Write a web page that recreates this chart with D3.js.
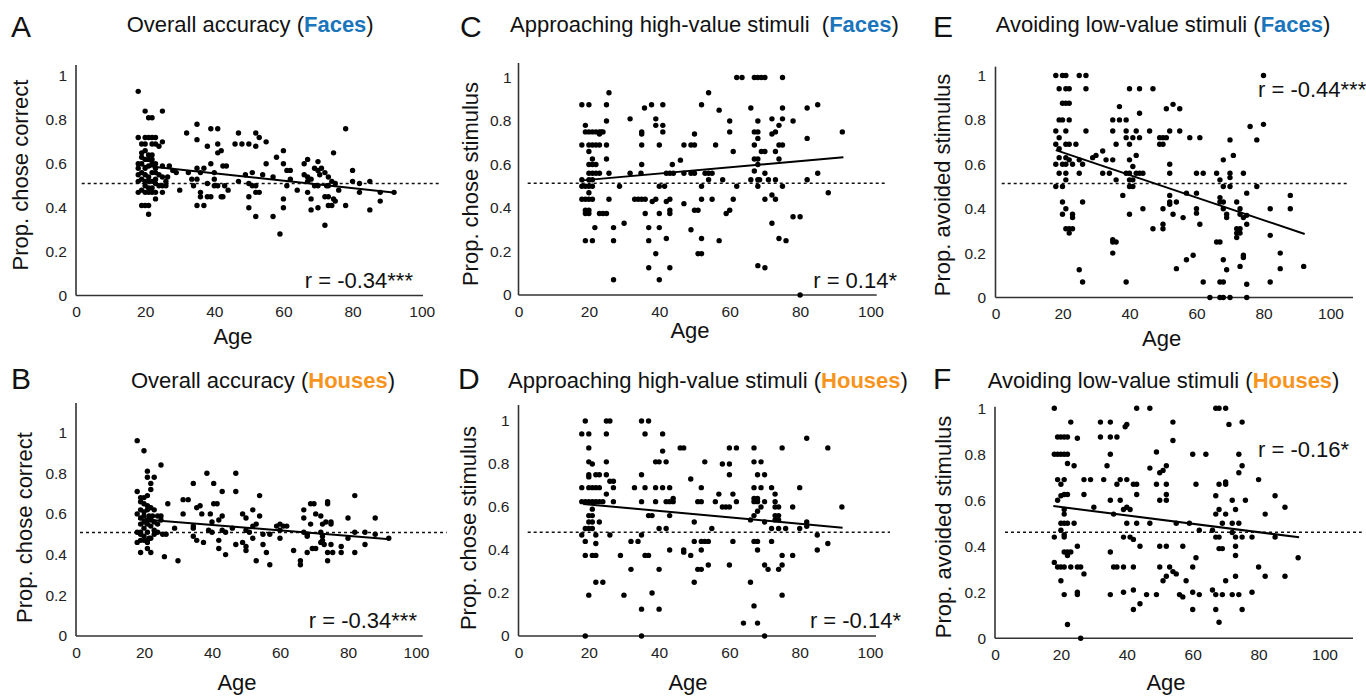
<!DOCTYPE html>
<html lang="en">
<head>
<meta charset="UTF-8">
<title>Age effects on accuracy, approach and avoidance</title>
<script src="https://d3js.org/d3.v7.min.js"></script>
<style>
  body { margin: 0; background: #fff; }
  svg { display: block; font-family: "Liberation Sans", Arial, sans-serif; }
  .tick text { font-size: 15.5px; fill: #222; }
  .title { font-size: 22px; fill: #111; white-space: pre; }
  .letter { font-size: 30px; fill: #111; }
  .axis-label { font-size: 22px; fill: #111; }
  .r-label { font-size: 22px; fill: #111; }
</style>
</head>
<body>
<svg id="chart" width="1366" height="696"></svg>
<script>
// ---- data ----
const xTicks = [0, 20, 40, 60, 80, 100];
const yTicks = [0, 0.2, 0.4, 0.6, 0.8, 1];

// A: overall accuracy, faces  [age, proportion]
const facesAccuracy = [
  [18,0.93],[20,0.84],[21,0.81],[22,0.81],[25,0.84],[18,0.72],[20,0.72],[21,0.72],[22,0.72],[23,0.72],
  [19,0.69],[20,0.69],[22,0.69],[23,0.69],[25,0.70],[24,0.68],[19,0.65],[20,0.66],[21,0.64],[19,0.63],
  [21,0.62],[22,0.62],[18,0.60],[25,0.59],[27,0.59],[23,0.56],[25,0.54],[26.5,0.54],[26,0.52],[18,0.52],
  [20,0.52],[22,0.52],[23,0.53],[25,0.50],[26,0.50],[18,0.47],[20,0.47],[21,0.47],[22,0.47],[23,0.47],
  [25,0.47],[23,0.44],[19,0.41],[20,0.41],[21,0.41],[21,0.37],[19,0.60],[20,0.58],[21,0.59],[22,0.60],
  [23,0.58],[19,0.56],[20,0.55],[21,0.54],[22,0.56],[24,0.55],[19,0.53],[21,0.52],[23,0.51],[20,0.50],
  [22,0.49],[24,0.50],[19,0.48],[21,0.49],[20,0.62],[22,0.64],[23,0.60],[18,0.55],[18,0.58],
  [28,0.57],[29,0.56],[30,0.48],[32,0.74],[32.5,0.56],[33.5,0.53],[34,0.50],[35,0.78],[35,0.71],[35,0.58],
  [35,0.53],[36,0.47],[36,0.45],[35,0.41],[37,0.41],[36,0.56],[37,0.58],[38,0.68],[39,0.76],[41,0.76],
  [39,0.60],[38,0.45],[39,0.45],[40,0.53],[38,0.51],[41,0.69],[41,0.65],[42,0.66],[40,0.56],[40,0.50],
  [41,0.50],[42,0.45],[42.5,0.45],[42.5,0.59],[43.5,0.59],[43,0.50],[44,0.48],[46,0.69],[47,0.74],[48,0.69],
  [50,0.69],[47,0.52],[49,0.55],[51,0.56],[50,0.45],[50,0.40],[50,0.51],[52,0.74],[53,0.72],[52,0.68],
  [51,0.50],[52,0.50],[52,0.47],[53,0.47],[52,0.36],[54,0.55],[55,0.70],[55,0.60],[57,0.54],[57,0.36],
  [58,0.63],[59,0.28],[60,0.66],[60,0.60],[60,0.44],[60,0.40],[61,0.57],[61,0.50],[62,0.57],[62,0.53],
  [64,0.48],[66,0.60],[67,0.62],[66,0.55],[67,0.54],[67,0.52],[68,0.53],[67,0.47],[68,0.44],[68,0.39],
  [69,0.58],[70,0.57],[70,0.61],[69,0.50],[70,0.50],[70.5,0.55],[71,0.58],[70,0.40],[72,0.32],[72,0.56],
  [73,0.54],[72.5,0.50],[73,0.50],[72,0.45],[73,0.45],[73,0.41],[74,0.41],[74.5,0.65],[74,0.52],[75,0.51],
  [74.5,0.44],[75,0.43],[76,0.48],[78,0.76],[78,0.41],[80,0.57],[80,0.52],[82,0.51],[82,0.47],[85,0.52],
  [85,0.39],[88,0.47],[88,0.43],[92,0.47]
];

// B: overall accuracy, houses
const housesAccuracy = [
  [18,0.96],[20,0.91],[21,0.81],[21,0.78],[23,0.78],[22,0.75],[25,0.84],[18,0.71],[19,0.68],[20,0.68],
  [21,0.69],[22,0.72],[19,0.66],[20,0.65],[21,0.64],[22,0.63],[19,0.62],[21,0.62],[23,0.62],[18,0.60],
  [19,0.58],[20,0.59],[21.5,0.59],[22.5,0.59],[24,0.59],[20,0.56],[21,0.55],[23,0.56],[25,0.57],[18,0.51],
  [19,0.51],[21,0.51],[20,0.49],[21.5,0.48],[23,0.50],[19,0.47],[21,0.47],[18,0.46],[21,0.43],[19,0.41],
  [22,0.41],[24,0.51],[25.5,0.50],[26.5,0.50],[26,0.39],[27,0.65],[25,0.59],[19,0.55],[20,0.53],[21,0.57],
  [22,0.54],[23,0.52],[20,0.47],[21,0.46],[22,0.48],[19,0.50],[24,0.55],[22,0.57],[20,0.61],
  [29,0.53],[30,0.37],[31.5,0.60],[31.5,0.67],[33,0.67],[34.5,0.75],[34.5,0.53],[34.5,0.54],[35.5,0.63],[36.5,0.64],
  [37,0.60],[34.5,0.49],[35.5,0.47],[37.5,0.46],[38.5,0.80],[39.5,0.60],[40,0.56],[39,0.52],[40,0.51],[40.5,0.75],
  [40.5,0.65],[41.5,0.65],[42,0.57],[43,0.59],[42,0.47],[42,0.43],[43,0.71],[44,0.40],[43,0.52],[44,0.51],
  [46,0.53],[47,0.80],[47,0.71],[47,0.45],[49,0.60],[50,0.58],[49,0.46],[50,0.44],[50,0.42],[50,0.52],
  [51,0.51],[52,0.54],[52,0.62],[52,0.48],[53,0.55],[53,0.37],[54,0.69],[54,0.59],[55,0.50],[55,0.45],
  [56,0.41],[57,0.35],[57,0.50],[59,0.54],[60,0.55],[61,0.54],[62,0.54],[60,0.52],[60,0.48],[64,0.42],
  [66,0.37],[66,0.35],[67,0.62],[67,0.58],[67,0.51],[68,0.50],[68,0.49],[68,0.41],[69,0.65],[70,0.65],
  [69,0.55],[69.5,0.43],[70.5,0.43],[70.5,0.60],[72,0.59],[72,0.51],[72.5,0.49],[72,0.46],[73,0.45],[72.5,0.47],
  [72.5,0.55],[73.5,0.56],[74,0.66],[74,0.65],[75,0.56],[75,0.55],[74,0.41],[75.5,0.41],[74,0.37],[75,0.45],
  [78,0.44],[78,0.41],[80,0.58],[80,0.48],[82,0.69],[82,0.41],[82,0.51],[85,0.51],[85,0.45],[88,0.58],
  [88,0.50],[92,0.48]
];

// C: approaching high-value stimuli, faces
const facesApproach = [
  [18,0.875],[20,0.875],[25,0.875],[25.7,0.93],[19,0.78],[19,0.75],[20,0.75],[21,0.75],[22,0.75],[23,0.75],
  [23.5,0.75],[24,0.75],[23,0.74],[18,0.69],[20,0.69],[21,0.69],[22,0.69],[23,0.69],[25,0.69],[25,0.80],
  [20,0.66],[21,0.625],[25,0.625],[20,0.60],[21,0.60],[22,0.60],[20,0.56],[21,0.56],[22,0.56],[23,0.56],
  [25.7,0.56],[18,0.53],[20,0.53],[21,0.53],[18,0.50],[19,0.50],[20,0.50],[21,0.50],[20,0.47],[18,0.44],
  [19,0.44],[20,0.44],[21,0.44],[25.7,0.44],[19,0.39],[20,0.39],[19,0.375],[20,0.375],[23,0.375],[24,0.375],
  [25,0.375],[21.7,0.31],[27,0.31],[30,0.33],[19,0.25],[21,0.25],[27,0.25],[27,0.07],[28.7,0.50],[31.7,0.81],
  [31.7,0.56],[34.8,0.56],[33,0.44],[34,0.44],[35,0.44],[36,0.44],[35,0.75],[35,0.74],[35,0.69],[35,0.60],
  [35.8,0.86],[37.8,0.875],[36,0.375],[37,0.31],[37,0.25],[37,0.125],[39,0.81],[39,0.78],[41,0.875],[41,0.78],
  [41,0.75],[40,0.69],[39,0.19],[40,0.07],[39,0.44],[38,0.43],[40,0.50],[41.5,0.50],[40,0.375],[40,0.31],
  [42,0.43],[43,0.44],[43,0.39],[43,0.375],[42,0.26],[43,0.125],[42,0.56],[43,0.56],[43.7,0.60],[44,0.56],
  [46,0.62],[47,0.42],[47,0.69],[49,0.69],[50,0.69],[47,0.56],[50,0.74],[49,0.56],[50,0.56],[49,0.30],
  [50,0.39],[51,0.39],[51,0.19],[52,0.19],[52,0.875],[52,0.50],[52,0.44],[52,0.26],[53,0.56],[54,0.56],
  [54,0.53],[54,0.93],[55,0.56],[55,0.44],[56,0.69],[57,0.85],[57,0.25],[58,0.53],[59,0.375],[60,0.39],
  [60,0.80],[60,0.75],[61,0.66],[61,0.44],[62,0.50],[62,1],[63.5,1],[66,0.86],[66,0.53],[67,1],
  [68,1],[69,1],[70,1],[67,0.75],[68,0.75],[68,0.80],[67,0.69],[68,0.72],[67,0.625],[68,0.625],
  [67,0.57],[68,0.53],[68.5,0.53],[68,0.50],[68,0.60],[69,0.66],[70,0.66],[70,0.56],[68,0.135],[70,0.125],
  [70,0.44],[71,0.53],[72,0.81],[72,0.74],[73,0.75],[72,0.46],[72,0.33],[73,0.66],[73,0.53],[73,0.44],
  [74,0.78],[74,0.69],[75,0.69],[74,0.625],[74,0.26],[75,0.81],[75,1],[75,0.86],[75,0.50],[76,0.25],
  [78,0.80],[78,0.36],[80,0.36],[80,0],[82,0.86],[82,0.72],[82,0.53],[85,0.875],[85,0.56],[88,0.47],
  [92,0.75]
];

// D: approaching high-value stimuli, houses
const housesApproach = [
  [19,1],[25,1],[26,1],[35,1],[37,1],[18,0.94],[20,0.94],[25,0.94],[36,0.94],[41,0.94],
  [20,0.875],[20,0.81],[21,0.80],[25,0.81],[20,0.75],[20,0.74],[22,0.75],[23,0.75],[25,0.75],[18,0.69],
  [20,0.69],[21,0.69],[22,0.69],[23,0.69],[25,0.66],[26,0.72],[27,0.72],[27,0.69],[18,0.625],[19,0.625],
  [20,0.625],[21,0.625],[22,0.625],[23,0.625],[24,0.625],[27,0.625],[21,0.59],[20,0.56],[21,0.56],[20,0.53],
  [21,0.53],[23,0.53],[19,0.50],[20,0.50],[21,0.50],[22,0.47],[18,0.47],[19,0.44],[22,0.43],[19,0.375],
  [21,0.375],[22,0.375],[22,0.25],[24,0.25],[20,0.19],[19,0],[26,0.47],[29,0.375],[30,0.19],[32,0.31],
  [32,0.44],[34,0.44],[33,0.69],[35,0.75],[35,0.625],[35,0.47],[35,0.125],[35,0],[36,0.69],[36,0.375],
  [37,0.375],[37,0.56],[38,0.56],[38,0.20],[39,0.69],[39,0.625],[39,0.81],[40,0.81],[42,0.81],[40,0.50],
  [42,0.50],[40,0.31],[40,0.125],[41,0.69],[43,0.69],[41,0.86],[42,0.625],[43,0.625],[44,0.625],[43,0.56],
  [43,0.40],[44,0.64],[46,0.875],[47,0.875],[47,0.40],[47,0.39],[49,0.73],[49,0.375],[50,0.53],[50,0.44],
  [50,0.25],[51,0.31],[52,0.31],[52,0.69],[51,0.625],[52,0.625],[52,0.40],[52,0.44],[53,0.81],[53,0.44],
  [54,0.44],[54,0.33],[55,0.50],[56,0.625],[57,0.66],[58,0.60],[59,0.60],[58,0.80],[60,0.80],[60,0.75],
  [60,0.875],[62,0.875],[60,0.60],[60,0.33],[61,0.66],[61,0.44],[62,0.625],[64,0.06],[66,0.25],[66,0.54],
  [67,0.875],[67,0.81],[69,0.81],[67,0.69],[67,0.64],[68,0.64],[67,0.625],[68,0.625],[67,0.56],[67,0.44],
  [68,0.44],[67,0.14],[68,0.75],[68,0.40],[68,0.06],[69,0.69],[69,0.60],[68,0.58],[70,0.75],[70,0.625],
  [70,0.53],[70,0.33],[71,0.31],[70,0],[72,0.69],[73,0.66],[72,0.50],[72,0.44],[73,0.625],[73,0.60],
  [74,0.60],[73,0.56],[74,0.56],[73,0.54],[74,0.54],[74,0.50],[74,0.31],[75,0.33],[75,0.875],[75,0.375],
  [75,0.19],[76,0.50],[78,0.60],[78,0.375],[80,0.69],[80,0.50],[82,0.92],[82,0.53],[82,0.51],[85,0.47],
  [85,0.40],[88,0.875],[88,0.43],[92,0.60]
];

// E: avoiding low-value stimuli, faces
const facesAvoid = [
  [18,1],[20,1],[21,1],[25,1],[27,1],[19,0.94],[21,0.94],[22,0.94],[27,0.94],[20,0.875],
  [21,0.875],[22,0.875],[19,0.80],[20,0.80],[22,0.80],[18,0.75],[19,0.72],[21,0.75],[27,0.75],[18,0.69],
  [19,0.67],[21,0.69],[22,0.69],[24,0.69],[19,0.63],[21,0.63],[18,0.60],[20,0.60],[21,0.60],[23,0.60],
  [22,0.62],[25,0.62],[26,0.60],[19,0.56],[21,0.56],[25,0.56],[21,0.53],[18,0.50],[20,0.50],[20,0.43],
  [21,0.40],[20,0.375],[23,0.375],[23,0.36],[21,0.31],[22,0.31],[23,0.31],[22,0.29],[25,0.125],[26,0.07],
  [26,0.43],[29,0.63],[30,0.64],[32,0.66],[33,0.62],[35,0.62],[32,0.56],[34,0.56],[35,0.80],[37,0.80],
  [39,0.80],[35,0.75],[37,0.86],[36,0.69],[36,0.53],[38,0.46],[35,0.26],[36,0.25],[35,0.25],[35,0.20],
  [39,0.07],[39,0.75],[39,0.72],[40,0.94],[43,0.94],[47,0.94],[40,0.69],[40,0.62],[41,0.72],[43,0.72],
  [42,0.75],[43,0.83],[41,0.59],[42,0.64],[39,0.56],[40,0.56],[40,0.53],[41,0.53],[40,0.50],[41,0.50],
  [42,0.56],[43,0.56],[44,0.56],[40,0.375],[44,0.40],[46,0.75],[47,0.31],[49,0.72],[50,0.72],[49,0.69],
  [50,0.69],[51,0.72],[52,0.75],[51,0.85],[53,0.87],[55,0.85],[55,0.75],[52,0.60],[52,0.56],[50,0.40],
  [50,0.33],[50,0.31],[52,0.46],[52,0.43],[52,0.42],[54,0.43],[53,0.375],[54,0.13],[56,0.36],[57,0.47],
  [58,0.72],[61,0.72],[60,0.56],[62,0.56],[60,0.47],[60,0.40],[60,0.38],[61,0.33],[57,0.17],[59,0.19],
  [62,0.07],[64,0],[66,0.56],[67,0.53],[68,0.50],[67,0.45],[68,0.62],[67,0.43],[68,0.43],[68,0.40],
  [69,0.375],[69,0.36],[66,0.25],[67,0.25],[68,0.17],[69,0.125],[67,0.07],[68,0.07],[67,0],[68,0],
  [70,0],[70,0.71],[71,0.64],[70,0.56],[70,0.54],[70,0.50],[72,0.43],[73,0.40],[73,0.375],[72,0.31],
  [73,0.31],[72,0.29],[73,0.29],[72,0.27],[73,0.14],[74,0.56],[74,0.36],[75,0.37],[75,0.33],[74,0.19],
  [74,0.18],[75,0.47],[75,0.06],[75,0],[76,0.77],[78,0.71],[78,0.50],[80,1],[80,0.78],[82,0.40],
  [82,0.28],[82,0.07],[85,0.20],[85,0.13],[88,0.46],[88,0.40],[92,0.14]
];

// F: avoiding low-value stimuli, houses
const housesAvoid = [
  [18,1],[43,1],[47,1],[67,1],[68,1],[70,1],[23,0.94],[32,0.94],[35,0.94],[39.5,0.92],
  [40,0.93],[54,0.94],[71,0.93],[75,0.94],[19,0.875],[20,0.875],[21,0.875],[22,0.875],[25,0.87],[32,0.875],
  [35,0.875],[37,0.875],[54,0.86],[18,0.80],[19,0.80],[20,0.80],[21,0.80],[22,0.80],[35,0.80],[49,0.81],
  [60,0.80],[64,0.80],[74,0.80],[22,0.76],[24,0.75],[34,0.75],[47,0.74],[50,0.72],[51,0.73],[52,0.75],
  [74,0.72],[75,0.75],[19,0.69],[21,0.69],[20,0.67],[27,0.69],[29,0.69],[33,0.69],[37,0.67],[38,0.69],
  [40,0.69],[42,0.67],[43,0.67],[43,0.625],[49,0.67],[52,0.67],[61,0.67],[68,0.67],[70,0.68],[70,0.67],
  [80,0.69],[19,0.60],[20,0.62],[21,0.625],[22,0.625],[27,0.625],[21,0.56],[21,0.54],[30,0.57],[35,0.60],
  [38,0.60],[36,0.54],[39,0.56],[40,0.57],[41,0.56],[40,0.50],[43,0.50],[47,0.50],[50,0.60],[52,0.60],
  [52,0.625],[55,0.50],[59,0.50],[67,0.62],[68,0.56],[67,0.54],[69,0.50],[70,0.54],[72,0.60],[73,0.56],
  [76,0.60],[72,0.50],[74,0.50],[88,0.57],[85,0.62],[82,0.54],[20,0.50],[21,0.50],[22,0.50],[24,0.50],
  [20,0.47],[21,0.45],[18,0.44],[21,0.44],[25,0.40],[21,0.375],[22,0.375],[23,0.375],[22,0.36],[18,0.33],
  [19,0.31],[20,0.31],[21,0.31],[23,0.31],[25,0.31],[26,0.31],[27,0.28],[20,0.25],[21,0.19],[25,0.19],
  [25,0.20],[22,0.06],[26,0],[35,0.375],[36,0.31],[37,0.31],[39,0.31],[42,0.31],[35,0.19],[39,0.44],
  [41,0.44],[42,0.43],[44,0.40],[39,0.20],[42,0.21],[42,0.125],[44,0.15],[46,0.19],[49,0.19],[50,0.40],
  [52,0.40],[50,0.31],[53,0.31],[51,0.25],[52,0.27],[54,0.29],[55,0.28],[56,0.19],[57,0.18],[57,0.40],
  [58,0.25],[60,0.31],[61,0.35],[60,0.20],[62,0.19],[60,0.125],[62,0.47],[66,0.47],[66,0.21],[67,0.44],
  [68,0.44],[68,0.39],[69,0.39],[67,0.19],[69,0.19],[67,0.125],[68,0.07],[70,0.25],[72,0.46],[73,0.44],
  [75,0.44],[73,0.40],[73,0.36],[73,0.27],[72,0.19],[74,0.19],[75,0.125],[78,0.44],[78,0.20],[80,0.31],
  [82,0.27],[85,0.44],[88,0.27],[92,0.35]
];

// regression lines [age, proportion] at both ends
const fitFacesAccuracy = [[19, 0.592], [92.4, 0.468]];
const fitHousesAccuracy = [[18.3, 0.575], [92.3, 0.475]];
const fitFacesApproach = [[18.2, 0.527], [92.3, 0.633]];
const fitHousesApproach = [[18.4, 0.614], [92.2, 0.504]];
const fitFacesAvoid = [[18, 0.664], [92.3, 0.286]];
const fitHousesAvoid = [[17.7, 0.575], [92.3, 0.439]];

// chance / reference level per panel (A, B, C, D, E, F)
const chanceLevels = [0.51, 0.508, 0.514, 0.482, 0.514, 0.461];
const panelLetters = ["A", "B", "C", "D", "E", "F"];
const titleText = [
  ["Overall accuracy (", "Faces", ")"],
  ["Overall accuracy (", "Houses", ")"],
  ["Approaching high-value stimuli  (", "Faces", ")"],
  ["Approaching high-value stimuli (", "Houses", ")"],
  ["Avoiding low-value stimuli (", "Faces", ")"],
  ["Avoiding low-value stimuli (", "Houses", ")"]
];
const yLabels = ["Prop. chose correct", "Prop. chose correct", "Prop. chose stimulus",
                 "Prop. chose stimulus", "Prop. avoided stimulus", "Prop. avoided stimulus"];
const rValues = ["r = -0.34***", "r = -0.34***", "r = 0.14*", "r = -0.14*", "r = -0.44***", "r = -0.16*"];
const xLabel = "Age";

const seriesData = [facesAccuracy, housesAccuracy, facesApproach, housesApproach, facesAvoid, housesAvoid];
const fitData = [fitFacesAccuracy, fitHousesAccuracy, fitFacesApproach, fitHousesApproach, fitFacesAvoid, fitHousesAvoid];

// ---- layout (pixel geometry of each panel) ----
const faceBlue = "#1b75bc";
const houseOrange = "#f7941d";
const layout = [
  { x0: 76, x1: 421.7, y0: 295.5, y1: 76, top: 65, right: 423, dash: [81.7, 441.7], yPad: 9,
    letter: [11, 37], title: [126.7, 32], yLab: [28, 175], xLab: [233, 344], r: [413, 288, "end"], color: faceBlue },
  { x0: 76, x1: 416, y0: 636, y1: 432.5, top: 403, right: 422.7, dash: [80, 446.7], yPad: 9,
    letter: [11, 389], title: [131, 387.5], yLab: [32, 527.5], xLab: [237, 690], r: [417, 628, "end"], color: houseOrange },
  { x0: 518.5, x1: 870.5, y0: 295, y1: 77.5, top: 63, right: 876.7, dash: [527.7, 886.7], yPad: 7,
    letter: [460, 37], title: [510, 32], yLab: [477.5, 184], xLab: [690, 338], r: [897, 288, "end"], color: faceBlue },
  { x0: 518.5, x1: 870, y0: 636, y1: 421, top: 405, right: 876, dash: [527.7, 890], yPad: 9,
    letter: [458, 389], title: [508, 387.5], yLab: [476, 528], xLab: [688, 690], r: [901, 628, "end"], color: houseOrange },
  { x0: 995.5, x1: 1330.5, y0: 297.5, y1: 75.5, top: 66.7, right: 1353, dash: [1001.7, 1346.7], yPad: 9.5,
    letter: [933, 37], title: [995.7, 32], yLab: [950, 185], xLab: [1161.7, 345.5], r: [1258, 97, "start"], color: faceBlue },
  { x0: 995, x1: 1324.5, y0: 638.3, y1: 408.3, top: 406.7, right: 1353, dash: [1005, 1361.7], yPad: 9,
    letter: [933, 389], title: [987.7, 387.5], yLab: [951, 527], xLab: [1166, 690], r: [1258, 457, "start"], color: houseOrange }
];

const svg = d3.select("#chart");
const yFormat = d => (d === 0 || d === 1) ? String(d) : d3.format(".1f")(d);

layout.forEach((p, i) => {
  const x = d3.scaleLinear().domain([0, 100]).range([p.x0, p.x1]);
  const y = d3.scaleLinear().domain([0, 1]).range([p.y0, p.y1]);
  const g = svg.append("g");

  // tick labels only, no tick marks
  g.append("g")
    .attr("transform", `translate(0,${p.y0})`)
    .call(d3.axisBottom(x).tickValues(xTicks).tickSize(0).tickPadding(10.5))
    .call(a => a.select(".domain").remove());
  g.append("g")
    .attr("transform", `translate(${p.x0},0)`)
    .call(d3.axisLeft(y).tickValues(yTicks).tickFormat(yFormat).tickSize(0).tickPadding(p.yPad))
    .call(a => a.select(".domain").remove());

  // axis lines
  g.append("line")
    .attr("x1", p.x0).attr("x2", p.x0).attr("y1", p.y0).attr("y2", p.top)
    .attr("stroke", "#333").attr("stroke-width", 1.6);
  g.append("line")
    .attr("x1", p.x0).attr("x2", p.right).attr("y1", p.y0).attr("y2", p.y0)
    .attr("stroke", "#333").attr("stroke-width", 1.6);

  // chance line
  g.append("line")
    .attr("x1", p.dash[0]).attr("x2", p.dash[1])
    .attr("y1", y(chanceLevels[i])).attr("y2", y(chanceLevels[i]))
    .attr("stroke", "#111").attr("stroke-width", 1.5).attr("stroke-dasharray", "3,3");

  // participants
  g.append("g").selectAll("circle")
    .data(seriesData[i])
    .join("circle")
    .attr("cx", d => x(d[0]))
    .attr("cy", d => y(d[1]))
    .attr("r", 2.7)
    .attr("fill", "#000");

  // regression line
  g.append("path")
    .datum(fitData[i])
    .attr("d", d3.line().x(d => x(d[0])).y(d => y(d[1])))
    .attr("fill", "none").attr("stroke", "#000").attr("stroke-width", 2);

  // texts
  g.append("text").attr("class", "letter")
    .attr("x", p.letter[0]).attr("y", p.letter[1]).text(panelLetters[i]);

  const t = g.append("text").attr("class", "title")
    .attr("x", p.title[0]).attr("y", p.title[1]);
  t.append("tspan").text(titleText[i][0]);
  t.append("tspan").attr("font-weight", "bold").attr("fill", p.color).text(titleText[i][1]);
  t.append("tspan").text(titleText[i][2]);

  g.append("text").attr("class", "axis-label")
    .attr("transform", `translate(${p.yLab[0]},${p.yLab[1]}) rotate(-90)`)
    .attr("text-anchor", "middle").text(yLabels[i]);

  g.append("text").attr("class", "axis-label")
    .attr("x", p.xLab[0]).attr("y", p.xLab[1])
    .attr("text-anchor", "middle").text(xLabel);

  g.append("text").attr("class", "r-label")
    .attr("x", p.r[0]).attr("y", p.r[1]).attr("text-anchor", p.r[2])
    .text(rValues[i]);
});
</script>
</body>
</html>
